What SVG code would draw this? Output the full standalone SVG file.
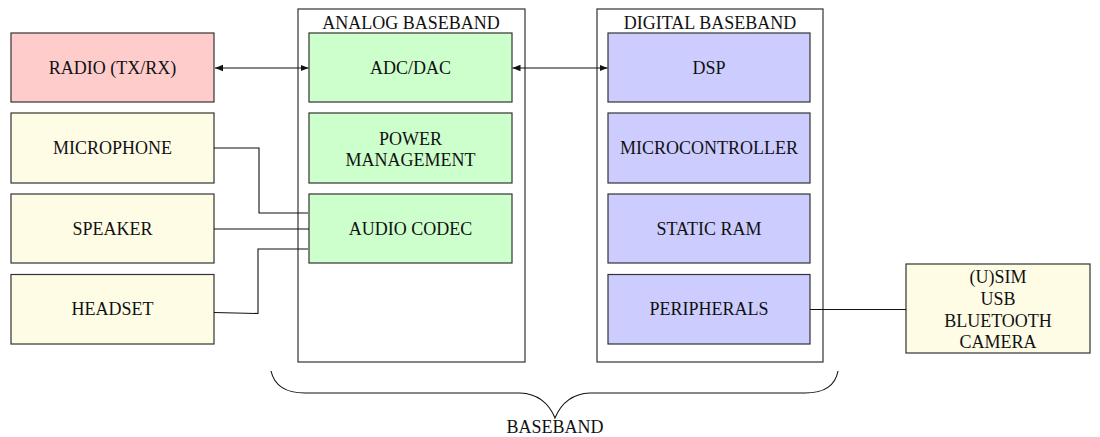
<svg xmlns="http://www.w3.org/2000/svg" width="1100" height="437" viewBox="0 0 1100 437">
<style>
.t{font-family:"Liberation Serif","Times New Roman",serif;font-size:18px;fill:#111;text-anchor:middle}
.box{stroke:#333;stroke-width:1.2}
.red{fill:#ffcccc}.grn{fill:#ccffcc}.blu{fill:#ccccff}.yel{fill:#fffce6}
.outer{fill:none;stroke:#333;stroke-width:1.2}
.c{fill:none;stroke:#111;stroke-width:1.1}
</style>
<defs>
<marker id="ah" viewBox="0 0 10 10" refX="10" refY="5" markerWidth="8" markerHeight="8" markerUnits="userSpaceOnUse" orient="auto-start-reverse">
<path d="M0,1 L10,5 L0,9 Z" fill="#111"/>
</marker>
</defs>
<rect width="1100" height="437" fill="#fff"/>
<g id="analog-baseband">
<rect class="outer" x="298" y="9" width="227" height="353"/>
<text class="t" x="411" y="29">ANALOG BASEBAND</text>
</g>
<g id="digital-baseband">
<rect class="outer" x="597" y="9" width="226" height="353"/>
<text class="t" x="710" y="29">DIGITAL BASEBAND</text>
</g>
<g id="radio"><rect class="box red" x="11" y="33" width="203" height="69"/><text class="t" x="112.5" y="74">RADIO (TX/RX)</text></g>
<g id="microphone"><rect class="box yel" x="11" y="113" width="203" height="70"/><text class="t" x="112.5" y="154">MICROPHONE</text></g>
<g id="speaker"><rect class="box yel" x="11" y="194" width="203" height="69"/><text class="t" x="112.5" y="235">SPEAKER</text></g>
<g id="headset"><rect class="box yel" x="11" y="274.5" width="203" height="69.5"/><text class="t" x="112.5" y="315">HEADSET</text></g>
<g id="adc-dac"><rect class="box grn" x="309" y="33" width="203" height="69"/><text class="t" x="410.5" y="74">ADC/DAC</text></g>
<g id="power-management"><rect class="box grn" x="309" y="113" width="203" height="70"/><text class="t" x="410.5" y="145">POWER</text><text class="t" x="410.5" y="166">MANAGEMENT</text></g>
<g id="audio-codec"><rect class="box grn" x="309" y="194" width="203" height="69"/><text class="t" x="410.5" y="235">AUDIO CODEC</text></g>
<g id="dsp"><rect class="box blu" x="608" y="33" width="202" height="69"/><text class="t" x="709" y="74">DSP</text></g>
<g id="microcontroller"><rect class="box blu" x="608" y="113" width="202" height="70"/><text class="t" x="709" y="154">MICROCONTROLLER</text></g>
<g id="static-ram"><rect class="box blu" x="608" y="194" width="202" height="69"/><text class="t" x="709" y="235">STATIC RAM</text></g>
<g id="peripherals"><rect class="box blu" x="608" y="274.5" width="202" height="69.5"/><text class="t" x="709" y="315">PERIPHERALS</text></g>
<g id="external"><rect class="box yel" x="906" y="264" width="184" height="89"/>
<text class="t" x="998" y="283">(U)SIM</text><text class="t" x="998" y="305">USB</text><text class="t" x="998" y="327">BLUETOOTH</text><text class="t" x="998" y="348">CAMERA</text></g>
<g id="connectors">
<line class="c" x1="215" y1="68" x2="308.5" y2="68" marker-start="url(#ah)" marker-end="url(#ah)"/>
<line class="c" x1="512.5" y1="68" x2="607.5" y2="68" marker-start="url(#ah)" marker-end="url(#ah)"/>
<polyline class="c" points="214,148 259,148 259,213 308,213"/>
<line class="c" x1="214" y1="229" x2="309" y2="229"/>
<polyline class="c" points="214,312.5 258,313.5 258,249 308,249"/>
<line class="c" x1="810" y1="309.5" x2="906" y2="309.5"/>
</g>
<g id="brace">
<path class="c" d="M271,371 Q276,393 305,393 L520,393 Q545,394 555,418 Q565,394 590,393 L805,393 Q834,393 838,371"/>
<text class="t" x="555" y="433">BASEBAND</text>
</g>
</svg>
